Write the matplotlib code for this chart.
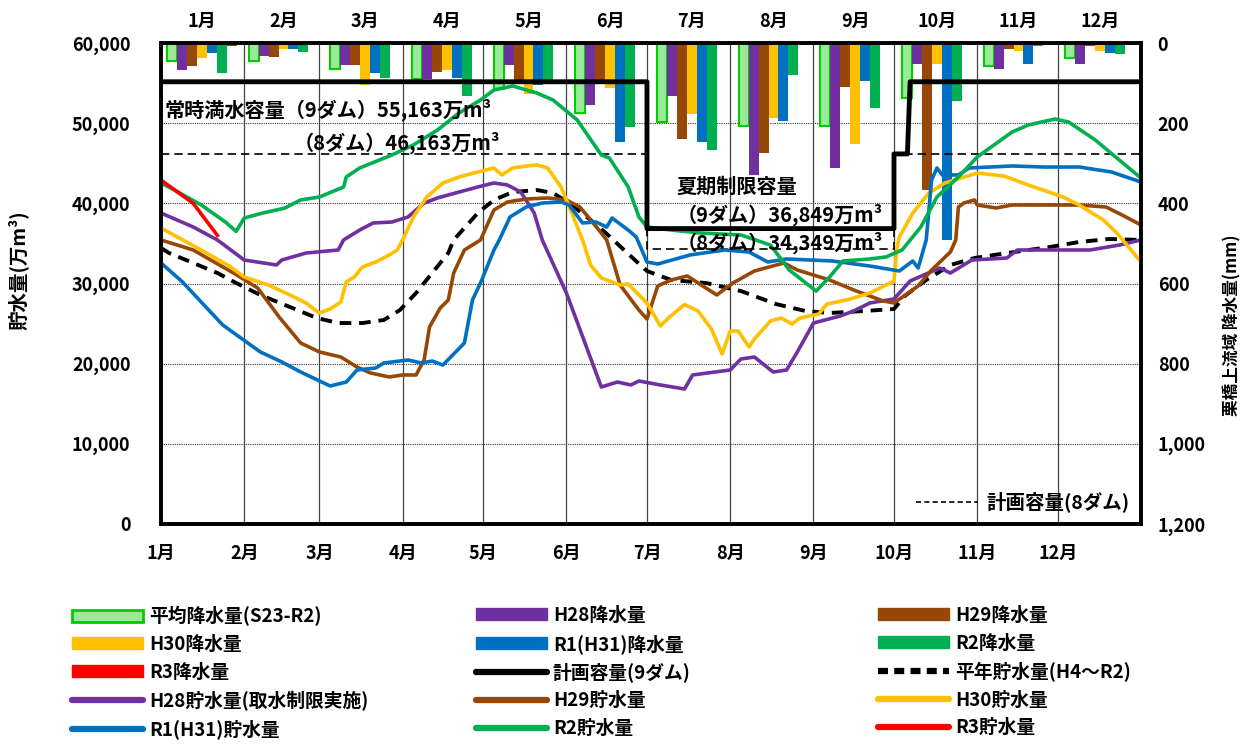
import matplotlib.pyplot as plt
from matplotlib.patches import Patch
from matplotlib.lines import Line2D

plt.rcParams['font.family'] = ['Noto Sans CJK JP', 'DejaVu Sans']
plt.rcParams['font.weight'] = 'bold'

# ---- data ----
months = ['1月', '2月', '3月', '4月', '5月', '6月', '7月', '8月', '9月', '10月', '11月', '12月']
month_start = [0, 31, 59, 90, 120, 151, 181, 212, 243, 273, 304, 334]
storage_ticks = [0, 10000, 20000, 30000, 40000, 50000, 60000]
rain_ticks = [0, 200, 400, 600, 800, 1000, 1200]

# monthly rainfall upstream of Kurihashi (mm)
rain_avg = [44, 46, 65, 90, 115, 174, 196, 206, 206, 136, 57, 38]
rain_h28 = [67, 32, 55, 90, 54, 155, 132, 329, 311, 52, 66, 53]
rain_h29 = [57, 36, 55, 72, 92, 95, 240, 274, 111, 366, 16, 7]
rain_h30 = [37, 15, 105, 67, 126, 113, 177, 186, 252, 52, 20, 20]
rain_r1 = [24, 15, 74, 87, 105, 246, 248, 194, 94, 491, 53, 24]
rain_r2 = [74, 22, 88, 132, 92, 210, 267, 79, 161, 145, 7, 27]
rain_r3 = [7]

# planned capacity (万m3)
plan9_day = [0, 181, 181, 273, 273, 278, 279, 365]
plan9_val = [55163, 55163, 36849, 36849, 46163, 46163, 55163, 55163]
plan8_day = [0, 181, 181, 273, 273, 365]
plan8_val = [46163, 46163, 34349, 34349, 46163, 46163]

# storage (万m3), day of year
normal_day = [0, 3, 12, 21, 28, 37, 48, 58, 66, 75, 83, 89, 95, 101, 107, 109, 118, 124, 131, 140,
              146, 152, 160, 166, 174, 181, 190, 203, 216, 229, 240, 249, 262, 273, 277, 285, 294,
              303, 315, 331, 342, 353, 365]
normal_val = [34430, 33800, 32560, 31310, 30060, 28570, 27070, 25700, 25070, 25070, 25450, 26690,
              28810, 31310, 33800, 35430, 38790, 40420, 41410, 41660, 41290, 40040, 37920, 36200,
              33700, 31560, 30440, 30060, 29060, 27440, 26570, 26320, 26570, 26820, 28440, 30440,
              32310, 33180, 33800, 34550, 35180, 35550, 35430]

h28_day = [0, 12, 21, 26, 31, 43, 45, 54, 66, 68, 74, 79, 86, 92, 98, 103, 111, 118, 124, 129, 134,
           139, 142, 151, 164, 170, 175, 178, 186, 195, 198, 212, 216, 221, 228, 233, 237, 243, 253,
           258, 264, 273, 279, 290, 294, 302, 315, 319, 331, 346, 357, 365]
h28_val = [38790, 37050, 35430, 34180, 32930, 32310, 32930, 33800, 34180, 35430, 36670, 37550, 37670,
           38300, 40040, 40670, 41410, 42040, 42540, 42290, 41410, 38790, 35430, 28810, 17090, 17710,
           17340, 17840, 17340, 16840, 18590, 19210, 20580, 20830, 18960, 19210, 21460, 25070, 25950,
           26570, 27570, 28070, 30310, 31930, 31310, 32930, 33180, 34180, 34180, 34180, 34800, 35430]

h29_day = [0, 12, 27, 36, 44, 52, 59, 67, 73, 78, 85, 90, 95, 98, 100, 104, 107, 109, 113, 119, 124,
           129, 136, 144, 151, 156, 161, 166, 171, 178, 181, 185, 190, 196, 207, 213, 221, 232, 237,
           249, 258, 269, 273, 282, 287, 294, 296, 297, 299, 303, 304, 311, 317, 329, 342, 352, 358, 365]
h29_val = [35430, 34180, 31310, 29440, 25820, 22580, 21460, 20830, 19580, 18840, 18340, 18590, 18590,
           20460, 24570, 26940, 27940, 31310, 34180, 35430, 39170, 40170, 40540, 40670, 40420, 39540,
           37550, 35430, 29810, 26690, 25570, 29690, 30440, 30940, 28570, 30060, 31560, 32560, 31680,
           30440, 29190, 27820, 27570, 29690, 31680, 33930, 35430, 39540, 40040, 40420, 39790, 39420,
           39790, 39790, 39790, 39540, 38540, 37300]

h30_day = [0, 15, 26, 31, 40, 48, 54, 59, 63, 67, 69, 72, 75, 80, 85, 88, 90, 94, 99, 105, 111, 118,
           124, 127, 131, 136, 140, 144, 149, 153, 157, 160, 164, 171, 174, 181, 186, 189, 195, 200,
           205, 209, 212, 215, 219, 221, 227, 231, 235, 238, 245, 248, 256, 264, 273, 274, 275, 280,
           286, 292, 304, 314, 323, 336, 342, 351, 356, 365]
h30_val = [36920, 34180, 32060, 30810, 29810, 28570, 27570, 26320, 26820, 27690, 30190, 30810, 32060,
           32680, 33560, 34180, 35430, 38300, 40790, 42540, 43290, 43910, 44410, 43530, 44410, 44660,
           44780, 44410, 42040, 38790, 35430, 32310, 30690, 29810, 29940, 27570, 24700, 25700, 27380,
           26570, 24320, 21210, 24070, 24070, 22080, 23080, 25320, 25700, 24950, 25700, 26200, 27440,
           28000, 28810, 30310, 34180, 35800, 38790, 41290, 42540, 43780, 43410, 42290, 40790, 39790,
           37920, 36300, 32680]

r1_day = [0, 8, 23, 37, 45, 52, 63, 69, 73, 80, 83, 92, 97, 101, 105, 113, 116, 119, 124, 126, 130,
          136, 142, 149, 152, 157, 162, 166, 168, 174, 177, 181, 185, 197, 210, 219, 226, 233, 250,
          264, 275, 280, 282, 285, 287, 289, 291, 297, 301, 317, 329, 342, 354, 365]
r1_val = [32560, 30190, 24820, 21460, 20210, 18960, 17210, 17710, 19210, 19460, 20080, 20460, 20080,
          20330, 19830, 22580, 27940, 30060, 34180, 35430, 38300, 39540, 40040, 40170, 39790, 37550,
          37670, 37050, 38170, 36670, 35800, 32680, 32430, 33560, 34180, 33930, 32680, 33060, 32810,
          32180, 31560, 32810, 31930, 35430, 42910, 44410, 43540, 43540, 44410, 44660, 44530, 44530,
          43910, 42660]

r2_day = [0, 5, 15, 24, 28, 31, 38, 46, 52, 59, 68, 69, 74, 86, 94, 103, 111, 119, 124, 131, 136,
          140, 146, 155, 164, 167, 174, 178, 181, 190, 201, 216, 227, 234, 244, 249, 254, 264, 270,
          276, 283, 289, 297, 304, 317, 323, 333, 338, 348, 356, 365]
r2_val = [42540, 41660, 39790, 37670, 36500, 38170, 38800, 39400, 40420, 40790, 42040, 43290, 44410,
          46030, 47280, 49150, 51270, 52890, 54140, 54640, 54140, 53760, 52890, 50400, 46030, 45660,
          42040, 38300, 37050, 36670, 36300, 36050, 34800, 31680, 29060, 30810, 32810, 33060, 33310,
          34180, 37050, 40790, 43290, 45780, 48900, 49770, 50520, 50150, 47900, 45650, 43160]

r3_day = [0, 12, 21]
r3_val = [42900, 40000, 36000]

# ---- colours ----
c_h28 = '#7030A0'
c_h29 = '#974706'
c_h30 = '#FFC000'
c_r1 = '#0070C0'
c_r2 = '#00B050'
c_r3 = '#FF0000'

fig = plt.figure(figsize=(12.5, 7.44), dpi=100)
ax = fig.add_axes([0.1288, 0.2957, 0.784, 0.6465])
ax2 = ax.twinx()
ax.set_zorder(ax2.get_zorder() + 1)
ax.patch.set_visible(False)

# ---- rainfall bars (right axis, inverted) ----
slot = 365 / 12
bw = 26.07 / 7
rain_sets = [
    (rain_avg, dict(facecolor='#9BEA9B', edgecolor='#00CC00', linewidth=1.5)),
    (rain_h28, dict(color=c_h28)),
    (rain_h29, dict(color=c_h29)),
    (rain_h30, dict(color=c_h30)),
    (rain_r1, dict(color=c_r1)),
    (rain_r2, dict(color=c_r2)),
    (rain_r3, dict(color=c_r3)),
]
for j, (vals, style) in enumerate(rain_sets):
    xs = [(i + 0.5) * slot - 13.035 + j * bw for i in range(len(vals))]
    ax2.bar(xs, vals, width=bw, align='edge', zorder=2, **style)

ax2.set_ylim(1200, 0)
ax2.set_yticks(rain_ticks)
ax2.set_yticklabels([f'{v:,}' for v in rain_ticks])
ax2.yaxis.grid(True, linestyle=(0, (1, 1)), color='#333333', linewidth=0.8, zorder=0)
ax2.set_axisbelow(True)
for d in month_start[1:]:
    ax2.axvline(d, color='#444444', linewidth=0.9, zorder=0)
ax2.tick_params(axis='y', length=0, pad=12, labelsize=13)

# ---- storage lines (left axis) ----
ax.plot(plan8_day, plan8_val, color='black', lw=1.2, ls=(0, (5, 3)))
ax.plot(normal_day, normal_val, color='black', lw=2.8, ls=(0, (3, 2)))
ax.plot(h28_day, h28_val, color=c_h28, lw=2.6)
ax.plot(h29_day, h29_val, color=c_h29, lw=2.6)
ax.plot(h30_day, h30_val, color=c_h30, lw=2.6)
ax.plot(r1_day, r1_val, color=c_r1, lw=2.6)
ax.plot(r2_day, r2_val, color=c_r2, lw=2.6)
ax.plot(r3_day, r3_val, color=c_r3, lw=2.6)
ax.plot(plan9_day, plan9_val, color='black', lw=3.5)

ax.set_xlim(0, 365)
ax.set_ylim(0, 60000)
ax.set_yticks(storage_ticks)
ax.set_yticklabels([f'{v:,}' for v in storage_ticks])
ax.set_xticks(month_start)
ax.set_xticklabels(months)
ax.tick_params(axis='y', length=0, pad=22, labelsize=13)
ax.tick_params(axis='x', length=0, pad=14, labelsize=13)
for a in (ax, ax2):
    for s in a.spines.values():
        s.set_linewidth(2.6)
        s.set_color('black')

top = ax.secondary_xaxis('top')
top.set_xticks([(i + 0.5) * slot for i in range(12)])
top.set_xticklabels(months)
top.tick_params(length=0, pad=9, labelsize=13)
top.spines['top'].set_visible(False)

# ---- annotations ----
ax.text(1.5, 51640, '常時満水容量（9ダム）55,163万m³', fontsize=14.5, va='center')
ax.text(49.5, 47530, '（8ダム）46,163万m³', fontsize=14.5, va='center')
ax.text(192, 42160, '夏期制限容量', fontsize=14.5, va='center')
ax.text(192, 38540, '（9ダム）36,849万m³', fontsize=14.5, va='center')
ax.text(192, 35050, '（8ダム）34,349万m³', fontsize=14.5, va='center')

ax.legend([Line2D([], [], color='black', lw=1.2, ls=(0, (3, 2)))], ['計画容量(8ダム)'],
          loc='lower right', frameon=False, fontsize=14, handlelength=3.2,
          borderaxespad=0.2, handletextpad=0.4)

fig.text(18 / 1250, 1 - 270 / 744, '貯水量(万m³)', rotation=90, ha='center', va='center', fontsize=14)
fig.text(1232 / 1250, 1 - 325 / 744, '栗橋上流域 降水量(mm)', rotation=90, ha='center', va='center',
         fontsize=12)

# ---- bottom legend, three columns filled row by row ----
def bar_h(c):
    return Patch(facecolor=c, edgecolor=c)

def line_h(c, ls='-'):
    return Line2D([], [], color=c, lw=4.5, ls=ls, solid_capstyle='round', dash_capstyle='butt')

entries = [
    (Patch(facecolor='#9BEA9B', edgecolor='#00CC00', linewidth=2), '平均降水量(S23-R2)'),
    (bar_h(c_h28), 'H28降水量'),
    (bar_h(c_h29), 'H29降水量'),
    (bar_h(c_h30), 'H30降水量'),
    (bar_h(c_r1), 'R1(H31)降水量'),
    (bar_h(c_r2), 'R2降水量'),
    (bar_h(c_r3), 'R3降水量'),
    (line_h('black'), '計画容量(9ダム)'),
    (line_h('black', (0, (1.6, 1))), '平年貯水量(H4～R2)'),
    (line_h(c_h28), 'H28貯水量(取水制限実施)'),
    (line_h(c_h29), 'H29貯水量'),
    (line_h(c_h30), 'H30貯水量'),
    (line_h(c_r1), 'R1(H31)貯水量'),
    (line_h(c_r2), 'R2貯水量'),
    (line_h(c_r3), 'R3貯水量'),
]
col_x = [72, 476, 878]
for k in range(3):
    col = entries[k::3]
    fig.legend([e[0] for e in col], [e[1] for e in col], loc='upper left',
               bbox_to_anchor=(col_x[k] / 1250, 1 - 606 / 744), frameon=False,
               fontsize=13.5, handlelength=3.8, handleheight=0.6, handletextpad=0.3,
               labelspacing=0.47, borderpad=0, borderaxespad=0)

fig.savefig('out.png', dpi=100)
